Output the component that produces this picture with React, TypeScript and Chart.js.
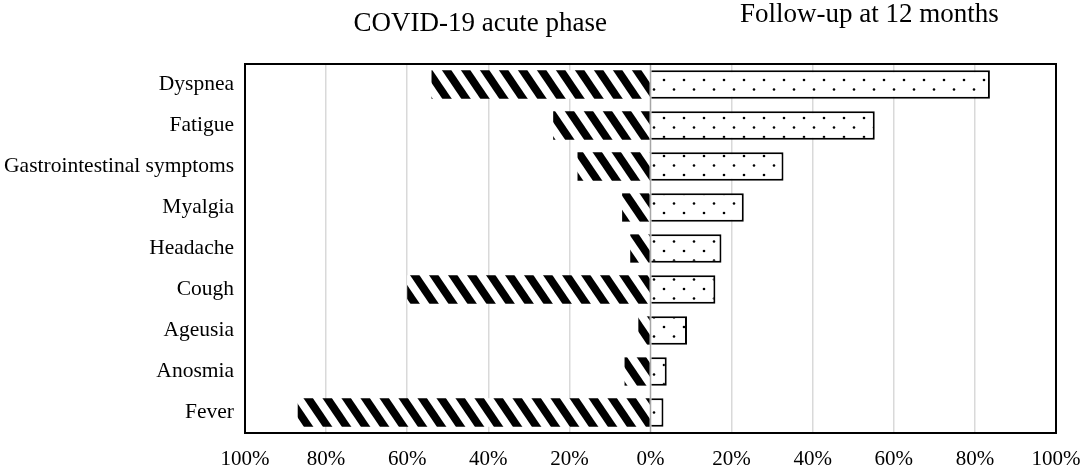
import { useEffect, useRef } from "react";
import { Chart, registerables } from "chart.js";

Chart.register(...registerables);

const symptoms = [
  "Dyspnea",
  "Fatigue",
  "Gastrointestinal symptoms",
  "Myalgia",
  "Headache",
  "Cough",
  "Ageusia",
  "Anosmia",
  "Fever",
];
// percent of patients, acute phase is drawn to the left of 0
const acutePhase = [54, 24, 18, 7, 5, 60, 3, 6.4, 87];
const followUp12m = [83.7, 55.3, 32.8, 23, 17.5, 16, 9, 4, 3.2];
const titleLeft = "COVID-19 acute phase";
const titleRight = "Follow-up at 12 months";

const FONT = "'Liberation Serif', 'Times New Roman', serif";

function makeHatch(): CanvasPattern | string {
  const c = document.createElement("canvas");
  const w = 19,
    h = 28;
  c.width = w;
  c.height = h;
  const g = c.getContext("2d");
  if (!g) return "#000";
  g.fillStyle = "#fff";
  g.fillRect(0, 0, w, h);
  g.strokeStyle = "#000";
  g.lineWidth = 7.8;
  for (let k = -1; k <= 1; k++) {
    g.beginPath();
    g.moveTo(k * w - w, -h);
    g.lineTo(k * w + 2 * w, 2 * h);
    g.stroke();
  }
  return g.createPattern(c, "repeat") || "#000";
}

function makeDots(): CanvasPattern | string {
  const c = document.createElement("canvas");
  const w = 20,
    h = 19;
  c.width = w;
  c.height = h;
  const g = c.getContext("2d");
  if (!g) return "#fff";
  g.fillStyle = "#fff";
  g.fillRect(0, 0, w, h);
  g.fillStyle = "#000";
  [
    [4, 4],
    [14, 13.5],
  ].forEach(([x, y]) => {
    g.beginPath();
    g.arc(x, y, 1.3, 0, Math.PI * 2);
    g.fill();
  });
  return g.createPattern(c, "repeat") || "#fff";
}

// titles, zero line and the black frame round the plot
const decorations = {
  id: "decorations",
  afterDatasetsDraw(chart: any) {
    const { ctx, chartArea } = chart;
    const x = chart.scales.x;
    const zero = x.getPixelForValue(0);
    ctx.save();
    ctx.strokeStyle = "#a6a6a6";
    ctx.lineWidth = 1.5;
    ctx.beginPath();
    ctx.moveTo(zero, chartArea.top);
    ctx.lineTo(zero, chartArea.bottom);
    ctx.stroke();
    ctx.restore();
  },
  afterDraw(chart: any) {
    const { ctx, chartArea } = chart;
    const x = chart.scales.x;
    ctx.save();
    ctx.strokeStyle = "#000";
    ctx.lineWidth = 2;
    ctx.strokeRect(
      chartArea.left,
      chartArea.top,
      chartArea.right - chartArea.left,
      chartArea.bottom - chartArea.top
    );
    ctx.fillStyle = "#000";
    ctx.font = `27px ${FONT}`;
    ctx.textAlign = "center";
    ctx.textBaseline = "alphabetic";
    ctx.fillText(titleLeft, x.getPixelForValue(-42), 31);
    ctx.fillText(titleRight, x.getPixelForValue(54), 22);
    ctx.restore();
  },
};

const SymptomChart = () => {
  const chartRef = useRef<HTMLCanvasElement | null>(null);

  useEffect(() => {
    document.body.style.margin = "0";
    const ctx = chartRef.current.getContext("2d");
    const myChart = new Chart(ctx, {
      type: "bar",
      data: {
        labels: symptoms,
        datasets: [
          {
            label: titleLeft,
            data: acutePhase.map((v) => -v),
            backgroundColor: makeHatch(),
            borderWidth: 0,
            barPercentage: 0.69,
            categoryPercentage: 1,
          },
          {
            label: titleRight,
            data: followUp12m,
            backgroundColor: makeDots(),
            borderColor: "#000",
            borderWidth: 2,
            barPercentage: 0.69,
            categoryPercentage: 1,
          },
        ],
      },
      options: {
        indexAxis: "y",
        animation: false,
        responsive: true,
        maintainAspectRatio: false,
        layout: { padding: { top: 64, right: 28, left: 0, bottom: 0 } },
        plugins: {
          legend: { display: false },
          tooltip: { enabled: false },
        },
        scales: {
          x: {
            stacked: true,
            min: -100,
            max: 100,
            afterFit: (scale: any) => {
              scale.height = 36;
              scale.paddingLeft = 0;
              scale.paddingRight = 0;
            },
            ticks: {
              stepSize: 20,
              padding: 14,
              color: "#000",
              font: { family: FONT, size: 21 },
              callback: (v: any) => `${Math.abs(Number(v))}%`,
            },
            grid: {
              drawTicks: false,
              color: (c: any) =>
                c.tick && c.tick.value === 0 ? "rgba(0,0,0,0)" : "#d9d9d9",
              lineWidth: 1.5,
            },
            border: { display: false },
          },
          y: {
            stacked: true,
            afterFit: (scale: any) => {
              scale.width = 245;
            },
            ticks: {
              padding: 11,
              color: "#000",
              font: { family: FONT, size: 21.5 },
            },
            grid: { display: false, drawTicks: false },
            border: { display: false },
          },
        },
      },
      plugins: [decorations],
    });

    return () => {
      myChart.destroy();
    };
  }, []);

  return (
    <div
      style={{
        position: "absolute",
        left: 0,
        top: 0,
        width: "1084px",
        height: "469px",
        background: "#fff",
      }}
    >
      <canvas ref={chartRef} />
    </div>
  );
};

export default function App() {
  return <SymptomChart />;
}
